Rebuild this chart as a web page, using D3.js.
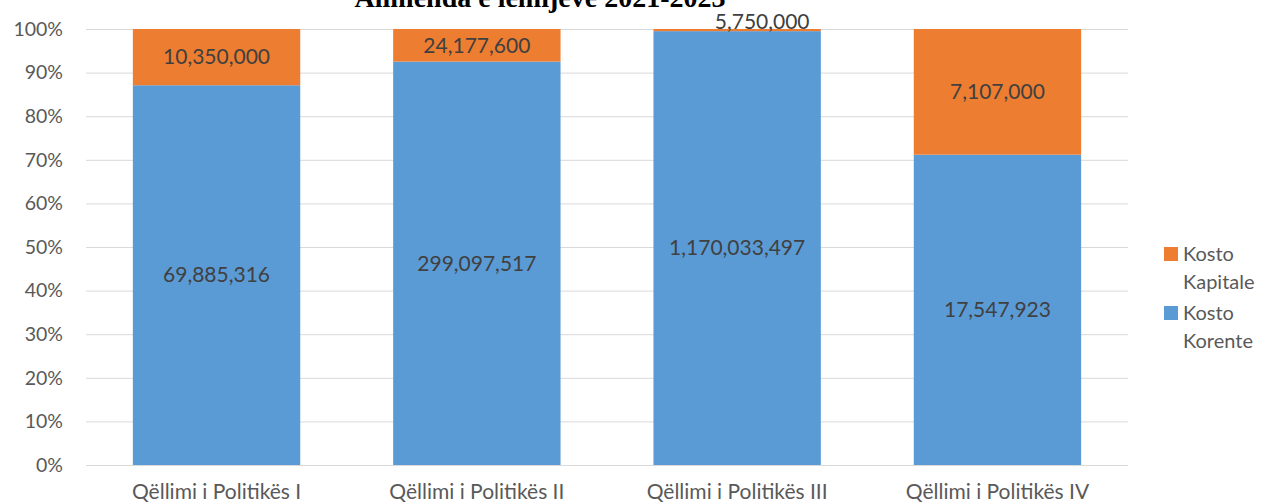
<html>
<head>
<style>
  body { margin: 0; background: #fff; }
  text { font-family: Lato, "Open Sans", sans-serif; }
</style>
</head>
<body>
<script src="https://d3js.org/d3.v7.min.js"></script>
<script>
    var categories = ['Qëllimi i Politikës I', 'Qëllimi i Politikës II', 'Qëllimi i Politikës III', 'Qëllimi i Politikës IV'];
    var korente = [69885316, 299097517, 1170033497, 17547923];
    var kapitale = [10350000, 24177600, 5750000, 7107000];
    var yTicks = [0, 0.1, 0.2, 0.3, 0.4, 0.5, 0.6, 0.7, 0.8, 0.9, 1];
    var seriesNames = ['Kosto Korente', 'Kosto Kapitale'];
    var titleText = 'Alimenda e lemijeve 2021-2023';

    var width = 1262, height = 504,
        plotLeft = 86, plotRight = 1128, plotTop = 29, plotBottom = 465,
        blue = '#5B9BD5', orange = '#ED7D31';

    var rows = categories.map((c, i) => {
        var t = korente[i] + kapitale[i];
        return { cat: c, k: korente[i], c: kapitale[i], pk: korente[i] / t, pc: kapitale[i] / t };
    });

    var x = d3.scaleBand().range([plotLeft, plotRight]).domain(categories).paddingInner(0.357).paddingOuter(0.18);
    var y = d3.scaleLinear().range([plotBottom, plotTop]).domain([0, 1]);
    var fmt = d3.format(',');

    var svg = d3.select('body').append('svg').attr('width', width).attr('height', height);

    // grid
    svg.selectAll('line.grid').data(yTicks).enter().append('line')
        .attr('x1', plotLeft).attr('x2', plotRight)
        .attr('y1', d => y(d) + 0.5).attr('y2', d => y(d) + 0.5)
        .attr('stroke', '#d9d9d9').attr('stroke-width', 1);

    // y labels
    svg.selectAll('text.ytick').data(yTicks).enter().append('text')
        .attr('x', 63).attr('y', d => y(d)).attr('dy', '0.35em')
        .attr('text-anchor', 'end').attr('font-size', 19.5).attr('fill', '#595959')
        .text(d => Math.round(d * 100) + '%');

    // bars
    svg.selectAll('rect.k').data(rows).enter().append('rect')
        .attr('x', d => x(d.cat)).attr('width', x.bandwidth())
        .attr('y', d => y(d.pk)).attr('height', d => y(0) - y(d.pk))
        .attr('fill', blue);
    svg.selectAll('rect.c').data(rows).enter().append('rect')
        .attr('x', d => x(d.cat)).attr('width', x.bandwidth())
        .attr('y', d => y(1)).attr('height', d => y(d.pk) - y(1))
        .attr('fill', orange);

    // labels
    svg.selectAll('text.lk').data(rows).enter().append('text')
        .attr('x', d => x(d.cat) + x.bandwidth() / 2).attr('y', d => y(d.pk / 2)).attr('dy', '0.35em')
        .attr('text-anchor', 'middle').attr('font-size', 21).attr('fill', '#404040')
        .text(d => fmt(d.k));
    svg.selectAll('text.lc').data(rows).enter().append('text')
        .attr('x', d => x(d.cat) + x.bandwidth() / 2 + (d.pc < 0.03 ? 25 : 0))
        .attr('y', d => d.pc < 0.03 ? y(1) - 7 : y(d.pk + d.pc / 2)).attr('dy', '0.35em')
        .attr('text-anchor', 'middle').attr('font-size', 21).attr('fill', '#404040')
        .text(d => fmt(d.c));

    // x labels
    svg.selectAll('text.xl').data(categories).enter().append('text')
        .attr('x', d => x(d) + x.bandwidth() / 2).attr('y', 499)
        .attr('text-anchor', 'middle').attr('font-size', 21).attr('fill', '#595959')
        .text(d => d);

    // title (cut off at top)
    svg.append('text').attr('x', 540).attr('y', 7)
        .attr('text-anchor', 'middle').attr('font-size', 28).attr('font-weight', 'bold')
        .style('font-family', '"Liberation Serif", serif').attr('fill', '#000')
        .text(titleText);

    // legend
    var legend = [
        { name: seriesNames[1], color: orange, y: 254 },
        { name: seriesNames[0], color: blue, y: 313 }
    ];
    var lg = svg.selectAll('g.lg').data(legend).enter().append('g')
        .attr('transform', d => `translate(1164,${d.y})`);
    lg.append('rect').attr('x', 0).attr('y', -7).attr('width', 14).attr('height', 14).attr('fill', d => d.color);
    lg.append('text').attr('x', 19).attr('y', 0).attr('dy', '0.35em')
        .attr('font-size', 20).attr('fill', '#595959').text(d => d.name.split(' ')[0]);
    lg.append('text').attr('x', 19).attr('y', 28).attr('dy', '0.35em')
        .attr('font-size', 20).attr('fill', '#595959').text(d => d.name.split(' ')[1]);
</script>
</body>
</html>
